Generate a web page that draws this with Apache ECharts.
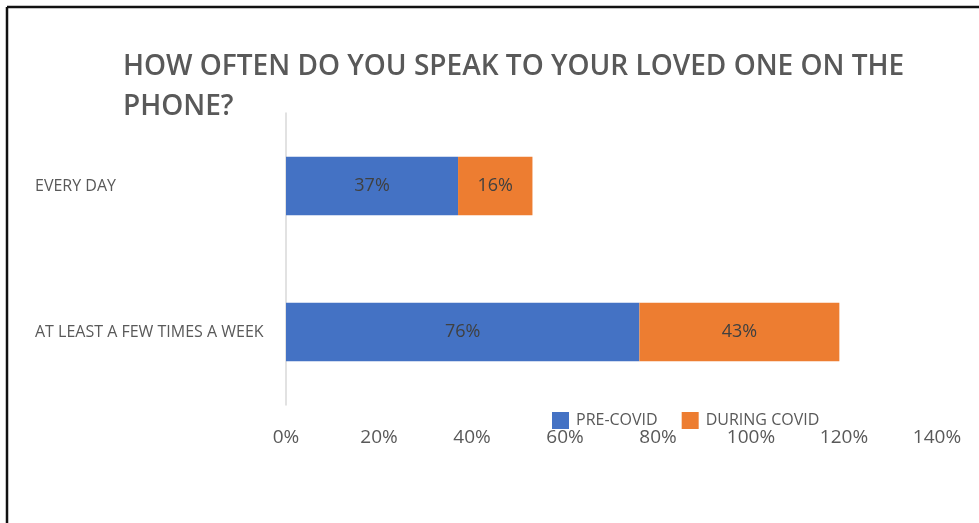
<!DOCTYPE html>
<html>
<head>
<meta charset="utf-8">
<script src="https://cdn.jsdelivr.net/npm/echarts@6/dist/echarts.min.js"></script>
<style>
  html, body { margin: 0; padding: 0; background: #fff; }
  #main { width: 979px; height: 523px; }
</style>
</head>
<body>
<div id="main"></div>
<script>
// 数据
var categories = ['AT LEAST A FEW TIMES A WEEK', 'EVERY DAY'];
var preCovid = [76, 37];
var duringCovid = [43, 16];
var seriesNames = ['PRE-COVID', 'DURING COVID'];
var axisMax = 140;
var axisStep = 20;

var myChart = echarts.init(document.getElementById('main'));

var labelStyle = {
    show: true,
    position: 'inside',
    formatter: '{c}%',
    color: '#404040',
    fontSize: 18,
    fontFamily: 'Open Sans'
};

var option = {
    animation: false,
    backgroundColor: '#fff',
    title: {
        text: 'HOW OFTEN DO YOU SPEAK TO YOUR LOVED ONE ON THE\nPHONE?',
        left: 118,
        top: 42,
        textStyle: {
            color: '#595959',
            fontSize: 28,
            fontWeight: 600,
            fontFamily: 'Open Sans',
            lineHeight: 40
        }
    },
    legend: {
        left: 547,
        top: 407,
        icon: 'rect',
        itemWidth: 17,
        itemHeight: 17,
        itemGap: 24,
        textStyle: { color: '#595959', fontSize: 16, fontFamily: 'Open Sans', padding: [0, 0, 0, 2] },
        data: seriesNames
    },
    grid: { left: 286, right: 42, top: 113, bottom: 118 },
    xAxis: {
        type: 'value',
        min: 0,
        max: axisMax,
        interval: axisStep,
        axisLine: { show: false },
        axisTick: { show: false },
        splitLine: { show: false },
        axisLabel: {
            formatter: '{value}%',
            color: '#595959',
            fontSize: 19,
            fontFamily: 'Open Sans',
            margin: 23
        }
    },
    yAxis: {
        type: 'category',
        data: categories,
        axisLine: { lineStyle: { color: '#d9d9d9', width: 1.5 } },
        axisTick: { show: false },
        axisLabel: {
            align: 'left',
            margin: 251,
            color: '#595959',
            fontSize: 16,
            fontFamily: 'Open Sans'
        }
    },
    series: [
        {
            name: seriesNames[0],
            type: 'bar',
            stack: 'total',
            barCategoryGap: '60%',
            itemStyle: { color: '#4472c4' },
            label: labelStyle,
            data: preCovid
        },
        {
            name: seriesNames[1],
            type: 'bar',
            stack: 'total',
            itemStyle: { color: '#ed7d31' },
            label: labelStyle,
            data: duringCovid
        }
    ],
    graphic: [
        { type: 'line', shape: { x1: 7, y1: 7, x2: 979, y2: 7 }, style: { stroke: '#111', lineWidth: 2.5 } },
        { type: 'line', shape: { x1: 7, y1: 7, x2: 7, y2: 523 }, style: { stroke: '#111', lineWidth: 2.5 } }
    ]
};

myChart.setOption(option);
</script>
</body>
</html>
